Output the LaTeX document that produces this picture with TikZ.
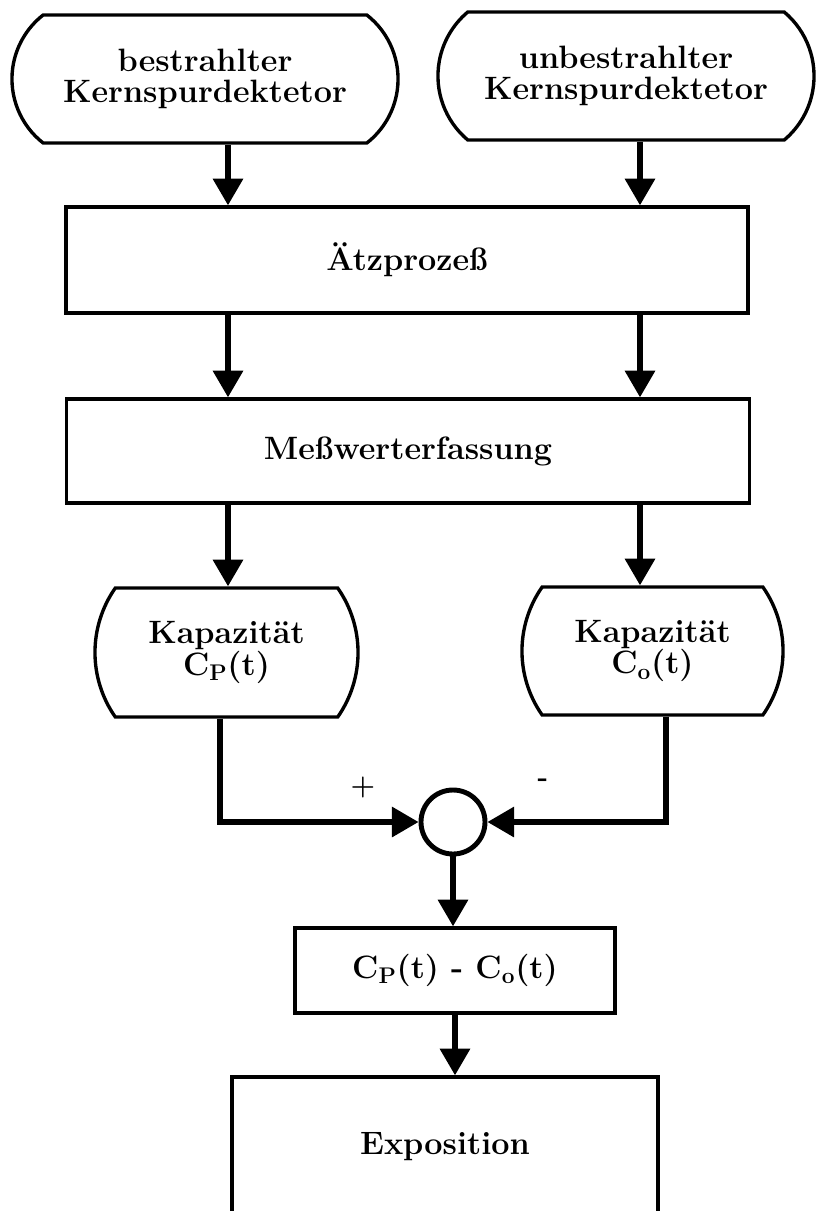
\documentclass[tikz,border=0pt]{standalone}
\usepackage{fontspec}
\usetikzlibrary{arrows.meta,shapes.misc}

\begin{document}
\begin{tikzpicture}[x=0.025cm, y=-0.025cm,
    every node/.style={align=center, font=\fontsize{23}{22.5}\selectfont\bfseries},
    box/.style={draw, line width=2.4pt, inner sep=0pt},
    term/.style={box, rounded rectangle, rounded rectangle arc length=#1},
    sign/.style={font=\fontsize{20}{20}\selectfont\bfseries},
    flow/.style={line width=3.6pt, -{Triangle[width=21pt,length=19pt]}}]
  \useasboundingbox (0,0) rectangle (816,1211);
  \clip (0,0) rectangle (816,1211);
  % the two branches run down these columns
  \coordinate (colL) at (228,0);
  \coordinate (colR) at (640,0);
  \coordinate (dropL) at (220,0);
  \coordinate (dropR) at (666,0);
  \node[term=104, minimum width=9.65cm, minimum height=3.2cm] (bestr) at (205,79) {bestrahlter\\Kernspurdektetor};
  \node[term=100, minimum width=9.4cm, minimum height=3.2cm] (unbestr) at (626,76) {unbestrahlter\\Kernspurdektetor};
  \node[box, minimum width=17.05cm, minimum height=2.65cm] (aetz) at (407,260) {Ätzprozeß};
  \node[box, minimum width=17.075cm, minimum height=2.6cm] (mess) at (408,451) {Meßwerterfassung};
  \node[term=70, minimum width=6.575cm, minimum height=3.225cm] (kapP) at (226.5,652.5) {Kapazität\\C\textsubscript{P}(t)};
  \node[term=70, minimum width=6.525cm, minimum height=3.2cm] (kapO) at (652.5,651) {Kapazität\\C\textsubscript{o}(t)};
  \node[draw, circle, line width=3.5pt, minimum size=1.6cm] (sum) at (453,822) {};
  \node[sign] (plus) at (363,787) {+};
  \node[sign] (minus) at (543,783) {-};
  \node[box, minimum width=8cm, minimum height=2.125cm] (diff) at (455,970.5) {C\textsubscript{P}(t) - C\textsubscript{o}(t)};
  \node[box, minimum width=10.65cm, minimum height=3.5cm] (expo) at (445,1147) {Exposition};
  % connectors
  \draw[flow] (bestr.south -| colL) -- (aetz.north -| colL);
  \draw[flow] (unbestr.south -| colR) -- (aetz.north -| colR);
  \draw[flow] (aetz.south -| colL) -- (mess.north -| colL);
  \draw[flow] (aetz.south -| colR) -- (mess.north -| colR);
  \draw[flow] (mess.south -| colL) -- (kapP.north -| colL);
  \draw[flow] (mess.south -| colR) -- (kapO.north -| colR);
  \draw[flow] (kapP.south -| dropL) |- (sum.west);
  \draw[flow] (kapO.south -| dropR) |- (sum.east);
  \draw[flow] (sum.south) -- (sum.south |- diff.north);
  \draw[flow] (diff.south) -- (diff.south |- expo.north);
\end{tikzpicture}
\end{document}
